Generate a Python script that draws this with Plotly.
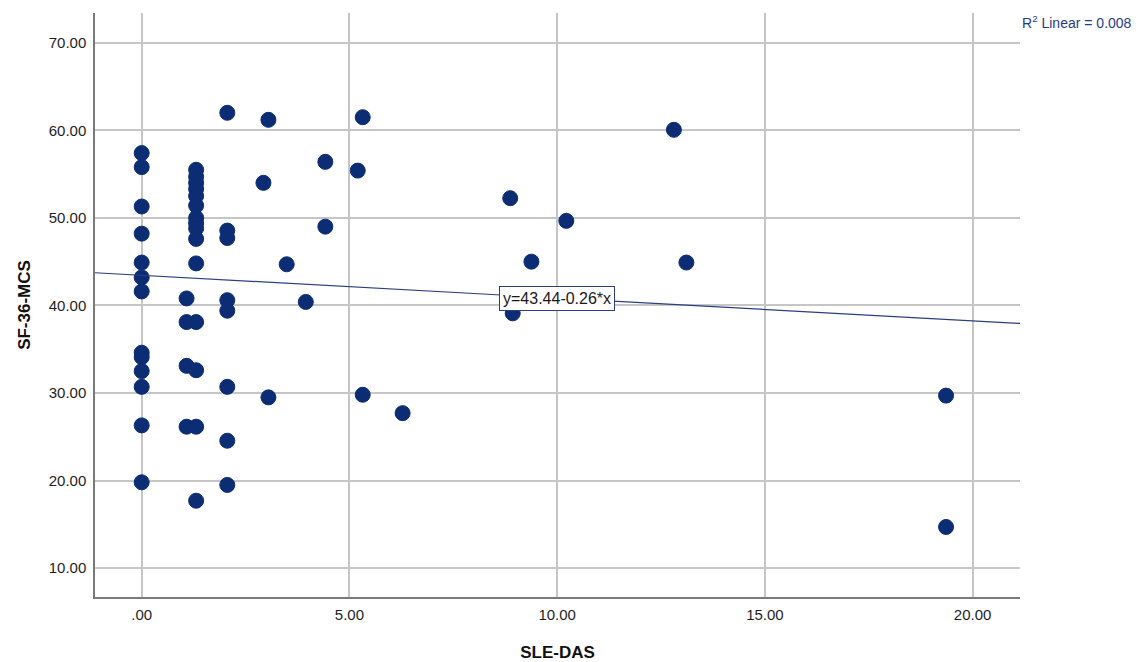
import plotly.graph_objects as go

# SLE-DAS (x) vs SF-36 mental component summary (y)
sle_das = [
    0, 0, 0, 0, 0, 0, 0, 0, 0, 0, 0, 0, 0,
    1.08, 1.08, 1.08, 1.08,
    1.31, 1.31, 1.31, 1.31, 1.31, 1.31, 1.31, 1.31, 1.31, 1.31, 1.31, 1.31, 1.31, 1.31, 1.31,
    2.06, 2.06, 2.06, 2.06, 2.06, 2.06, 2.06, 2.06,
    2.93, 3.05, 3.05, 3.49, 3.95, 4.42, 4.42, 5.20, 5.32, 5.32, 6.28,
    8.87, 8.93, 9.38, 10.22, 12.81, 13.11, 19.36, 19.36,
]
sf36_mcs = [
    57.4, 55.8, 51.3, 48.2, 44.9, 43.2, 41.6, 34.6, 34.1, 32.5, 30.7, 26.3, 19.8,
    40.8, 38.1, 33.1, 26.15,
    55.5, 54.7, 54.0, 53.3, 52.5, 51.4, 50.0, 49.4, 48.8, 47.6, 44.8, 38.1, 32.6, 26.15, 17.7,
    62.0, 48.55, 47.7, 40.6, 39.4, 30.7, 24.55, 19.5,
    54.0, 61.2, 29.5, 44.7, 40.4, 56.4, 49.0, 55.4, 61.5, 29.8, 27.7,
    52.25, 39.1, 45.0, 49.66, 60.06, 44.9, 29.7, 14.7,
]

# Linear fit reported on the chart
fit_intercept = 43.44
fit_slope = -0.26
r_squared = 0.008

x_ticks = [0, 5, 10, 15, 20]
x_tick_text = [".00", "5.00", "10.00", "15.00", "20.00"]
y_ticks = [10, 20, 30, 40, 50, 60, 70]
y_tick_text = ["10.00", "20.00", "30.00", "40.00", "50.00", "60.00", "70.00"]

x_range = [-1.124, 21.14]
y_range = [6.70, 73.40]

navy = "#0c2d74"
line_navy = "#2b3f80"
font_family = "Liberation Sans, Arial, sans-serif"

W, H = 1139, 662
M_L, M_R, M_T, M_B = 95, 119, 13, 65
plot_w = W - M_L - M_R
plot_h = H - M_T - M_B

fig = go.Figure()

fig.add_trace(go.Scatter(
    x=sle_das, y=sf36_mcs, mode="markers",
    marker=dict(size=15, color=navy, line=dict(color=navy, width=1)),
    showlegend=False, hoverinfo="x+y",
))

fit_x = list(x_range)
fit_y = [fit_intercept + fit_slope * v for v in fit_x]
fig.add_trace(go.Scatter(
    x=fit_x, y=fit_y, mode="lines",
    line=dict(color=line_navy, width=1.2),
    showlegend=False, hoverinfo="skip",
))

fig.add_annotation(
    x=10, y=fit_intercept + fit_slope * 10,
    xref="x", yref="y",
    text=f"y={fit_intercept:.2f}{fit_slope:+.2f}*x".replace("+-", "-"),
    showarrow=False, xanchor="center", yanchor="middle",
    font=dict(family=font_family, size=16, color="#1a1a1a"),
    bgcolor="white", bordercolor=line_navy, borderwidth=1, borderpad=3,
)

# R² note just right of the plot area, near the top
fig.add_annotation(
    x=(1020 - M_L) / plot_w, y=(H - M_B - 22) / plot_h,
    xref="paper", yref="paper",
    text=f"R<sup>2</sup> Linear = {r_squared:.3f}",
    showarrow=False, xanchor="left", yanchor="middle",
    font=dict(family=font_family, size=14, color="#1f3c88"),
)

fig.update_layout(
    width=W, height=H,
    margin=dict(l=M_L, r=M_R, t=M_T, b=M_B),
    paper_bgcolor="white", plot_bgcolor="white",
    font=dict(family=font_family, color="#222222"),
    xaxis=dict(
        range=x_range, tickvals=x_ticks, ticktext=x_tick_text,
        showgrid=True, gridcolor="#c6c6c6", gridwidth=1.5,
        zeroline=False, showline=True, linecolor="#7a7a7a", linewidth=1.5,
        ticks="", ticklabelstandoff=3, automargin=False,
        tickfont=dict(size=15, color="#1e1e1e"),
        title=dict(text="<b>SLE-DAS</b>", font=dict(size=17, color="#111111"), standoff=26),
    ),
    yaxis=dict(
        range=y_range, tickvals=y_ticks, ticktext=y_tick_text,
        showgrid=True, gridcolor="#c6c6c6", gridwidth=1.5,
        zeroline=False, showline=True, linecolor="#7a7a7a", linewidth=1.5,
        ticks="", ticklabelstandoff=4, automargin=False,
        tickfont=dict(size=15, color="#1e1e1e"),
        title=dict(text="<b>SF-36-MCS</b>", font=dict(size=17, color="#111111"), standoff=14),
    ),
)

fig.write_html("out.html")
